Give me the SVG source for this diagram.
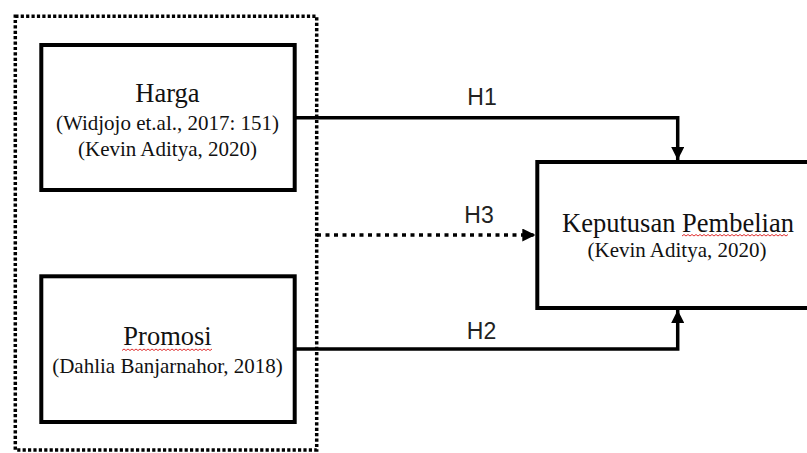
<svg xmlns="http://www.w3.org/2000/svg" width="807" height="453" viewBox="0 0 807 453">
<style>
.box{fill:#fff;stroke:#000;stroke-width:4}
.t{font-family:"Liberation Serif","Times New Roman",serif;fill:#111;text-anchor:middle}
.title{font-size:26.5px}
.sub{font-size:21px}
.h{font-family:"Liberation Sans",Arial,sans-serif;font-size:23px;fill:#222;text-anchor:middle}
.conn{fill:none;stroke:#000;stroke-width:3.5}
.dot{fill:none;stroke:#000;stroke-width:3.5;stroke-dasharray:4 4.5}
.sq{fill:none;stroke:#e03030;stroke-width:1}
</style>
<defs>
<marker id="arr" viewBox="0 0 10 10" refX="10" refY="5" markerWidth="13" markerHeight="13" markerUnits="userSpaceOnUse" orient="auto">
<path d="M0,0 L10,5 L0,10 Z" fill="#000"/>
</marker>
</defs>
<rect width="807" height="453" fill="#fff"/>
<g id="group-boundary">
<rect x="15.3" y="16.3" width="301.4" height="433.7" fill="none" stroke="#000" stroke-width="3.5" stroke-dasharray="3.2 2.2"/>
</g>
<g id="connectors">
<polyline class="conn" points="294.7,117.7 677.7,117.7 677.7,160" marker-end="url(#arr)"/>
<polyline class="conn" points="294.7,349 677.7,349 677.7,310" marker-end="url(#arr)"/>
<line class="dot" x1="317" y1="235" x2="535.3" y2="235" marker-end="url(#arr)"/>
<text class="h" x="482" y="105">H1</text>
<text class="h" x="479" y="222.7">H3</text>
<text class="h" x="481.5" y="339.3">H2</text>
</g>
<g id="harga">
<rect class="box" x="41.3" y="45" width="253.4" height="145"/>
<text class="t title" x="167.5" y="102">Harga</text>
<text class="t sub" x="167.5" y="130">(Widjojo et.al., 2017: 151)</text>
<text class="t sub" x="167.5" y="156">(Kevin Aditya, 2020)</text>
</g>
<g id="promosi">
<rect class="box" x="41.3" y="276.3" width="253.4" height="145.7"/>
<text class="t title" x="167.5" y="345">Promosi</text>
<path class="sq" d="M122,350.5 l2,-1.5 l2,1.5 l2,-1.5 l2,1.5 l2,-1.5 l2,1.5 l2,-1.5 l2,1.5 l2,-1.5 l2,1.5 l2,-1.5 l2,1.5 l2,-1.5 l2,1.5 l2,-1.5 l2,1.5 l2,-1.5 l2,1.5 l2,-1.5 l2,1.5 l2,-1.5 l2,1.5 l2,-1.5 l2,1.5 l2,-1.5 l2,1.5 l2,-1.5 l2,1.5 l2,-1.5 l2,1.5 l2,-1.5 l2,1.5 l2,-1.5 l2,1.5 l2,-1.5 l2,1.5 l2,-1.5 l2,1.5 l2,-1.5 l2,1.5 l2,-1.5 l2,1.5 l2,-1.5 l2,1.5 l2,-1.5"/>
<text class="t sub" x="167.5" y="373">(Dahlia Banjarnahor, 2018)</text>
</g>
<g id="keputusan">
<rect class="box" x="537.3" y="162" width="290" height="146"/>
<text class="t title" x="678" y="231.7">Keputusan Pembelian</text>
<path class="sq" d="M682,236 l2,-1.5 l2,1.5 l2,-1.5 l2,1.5 l2,-1.5 l2,1.5 l2,-1.5 l2,1.5 l2,-1.5 l2,1.5 l2,-1.5 l2,1.5 l2,-1.5 l2,1.5 l2,-1.5 l2,1.5 l2,-1.5 l2,1.5 l2,-1.5 l2,1.5 l2,-1.5 l2,1.5 l2,-1.5 l2,1.5 l2,-1.5 l2,1.5 l2,-1.5 l2,1.5 l2,-1.5 l2,1.5 l2,-1.5 l2,1.5 l2,-1.5 l2,1.5 l2,-1.5 l2,1.5 l2,-1.5 l2,1.5 l2,-1.5 l2,1.5 l2,-1.5 l2,1.5 l2,-1.5 l2,1.5 l2,-1.5 l2,1.5 l2,-1.5 l2,1.5 l2,-1.5 l2,1.5 l2,-1.5 l2,1.5 l2,-1.5"/>
<text class="t sub" x="677" y="256.7">(Kevin Aditya, 2020)</text>
</g>
</svg>
